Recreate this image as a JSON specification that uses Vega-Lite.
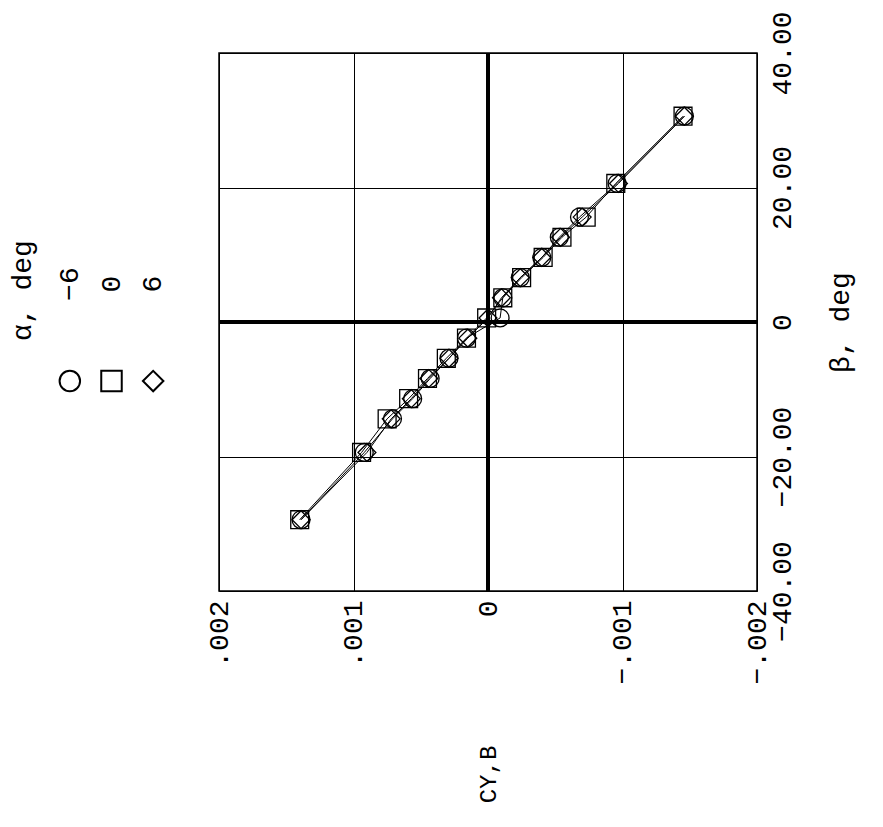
{
  "$schema": "https://vega.github.io/schema/vega-lite/v6.json",
  "autosize": {"type": "none"},
  "padding": {"left": 49, "top": 53, "right": 834, "bottom": 774},
  "background": "white",
  "bounds": "flush",
  "spacing": 45,
  "config": {
    "view": {"stroke": "black", "strokeWidth": 1.5},
    "font": "Liberation Mono",
    "axis": {
      "labelFont": "Liberation Mono",
      "titleFont": "Liberation Mono",
      "labelColor": "black",
      "titleColor": "black",
      "labelFontSize": 28,
      "titleFontSize": 28,
      "titleFontWeight": "normal",
      "gridColor": "black",
      "gridOpacity": 1,
      "gridWidth": 1,
      "domain": false,
      "ticks": false,
      "labelOverlap": false,
      "labelFlush": false,
      "labelBound": false
    },
    "text": {"font": "Liberation Mono"}
  },
  "hconcat": [
    {
      "width": 125,
      "height": 538,
      "view": {"stroke": null},
      "data": {
        "values": [
          {"alpha": -6, "label": "−6"},
          {"alpha": 0, "label": "0"},
          {"alpha": 6, "label": "6"}
        ]
      },
      "encoding": {
        "x": {
          "field": "alpha",
          "type": "ordinal",
          "scale": {"type": "point", "padding": 0.5, "domain": [-6, 0, 6]},
          "axis": null
        }
      },
      "layer": [
        {
          "mark": {"type": "point", "filled": false, "color": "black", "strokeWidth": 2, "size": 420, "opacity": 1},
          "encoding": {
            "y": {
              "datum": 0,
              "type": "quantitative",
              "scale": {"domain": [-2.08, 3.25], "nice": false, "zero": false},
              "axis": {
                "orient": "left",
                "title": "α, deg",
                "labels": false,
                "grid": false,
                "titlePadding": 13,
                "titleY": 237,
                "titleAngle": -90,
                "titleAlign": "center"
              }
            },
            "shape": {
              "field": "alpha",
              "type": "nominal",
              "scale": {"domain": [-6, 0, 6], "range": ["circle", "square", "diamond"]},
              "legend": null
            }
          }
        },
        {
          "mark": {"type": "text", "angle": -90, "fontSize": 28, "color": "black", "align": "center", "baseline": "middle", "dx": -4},
          "encoding": {
            "y": {"datum": 1, "type": "quantitative"},
            "text": {"field": "label"}
          }
        }
      ]
    },
    {
      "width": 538,
      "height": 538,
      "data": {
        "values": [
          {"alpha": -6, "beta": 30.6, "cy": -0.00146},
          {"alpha": -6, "beta": 20.6, "cy": -0.00096},
          {"alpha": -6, "beta": 15.6, "cy": -0.00068},
          {"alpha": -6, "beta": 12.6, "cy": -0.00053},
          {"alpha": -6, "beta": 9.6, "cy": -0.00040},
          {"alpha": -6, "beta": 6.6, "cy": -0.00024},
          {"alpha": -6, "beta": 3.6, "cy": -0.00011},
          {"alpha": -6, "beta": 0.6, "cy": -0.00009},
          {"alpha": -6, "beta": -2.4, "cy": 0.00016},
          {"alpha": -6, "beta": -5.4, "cy": 0.00029},
          {"alpha": -6, "beta": -8.4, "cy": 0.00043},
          {"alpha": -6, "beta": -11.4, "cy": 0.00056},
          {"alpha": -6, "beta": -14.4, "cy": 0.00071},
          {"alpha": -6, "beta": -19.4, "cy": 0.00092},
          {"alpha": -6, "beta": -29.4, "cy": 0.00139},
          {"alpha": 0, "beta": 30.6, "cy": -0.00145},
          {"alpha": 0, "beta": 20.6, "cy": -0.00095},
          {"alpha": 0, "beta": 15.6, "cy": -0.00073},
          {"alpha": 0, "beta": 12.6, "cy": -0.00055},
          {"alpha": 0, "beta": 9.6, "cy": -0.00041},
          {"alpha": 0, "beta": 6.6, "cy": -0.00025},
          {"alpha": 0, "beta": 3.6, "cy": -0.00011},
          {"alpha": 0, "beta": 0.6, "cy": 0.00001},
          {"alpha": 0, "beta": -2.4, "cy": 0.00016},
          {"alpha": 0, "beta": -5.4, "cy": 0.00031},
          {"alpha": 0, "beta": -8.4, "cy": 0.00045},
          {"alpha": 0, "beta": -11.4, "cy": 0.00059},
          {"alpha": 0, "beta": -14.4, "cy": 0.00075},
          {"alpha": 0, "beta": -19.4, "cy": 0.00094},
          {"alpha": 0, "beta": -29.4, "cy": 0.00140},
          {"alpha": 6, "beta": 30.6, "cy": -0.00146},
          {"alpha": 6, "beta": 20.6, "cy": -0.00097},
          {"alpha": 6, "beta": 15.6, "cy": -0.00070},
          {"alpha": 6, "beta": 12.6, "cy": -0.00054},
          {"alpha": 6, "beta": 9.6, "cy": -0.00040},
          {"alpha": 6, "beta": 6.6, "cy": -0.00024},
          {"alpha": 6, "beta": 3.6, "cy": -0.00010},
          {"alpha": 6, "beta": 0.6, "cy": 0.00000},
          {"alpha": 6, "beta": -2.4, "cy": 0.00015},
          {"alpha": 6, "beta": -5.4, "cy": 0.00029},
          {"alpha": 6, "beta": -8.4, "cy": 0.00044},
          {"alpha": 6, "beta": -11.4, "cy": 0.00057},
          {"alpha": 6, "beta": -14.4, "cy": 0.00072},
          {"alpha": 6, "beta": -19.4, "cy": 0.00090},
          {"alpha": 6, "beta": -29.4, "cy": 0.00139}
        ]
      },
      "layer": [
        {
          "mark": {"type": "point", "filled": false, "color": "black", "strokeWidth": 1.3, "opacity": 1, "size": 320},
          "encoding": {
            "x": {
              "field": "cy",
              "type": "quantitative",
              "scale": {"domain": [-0.002, 0.002], "reverse": true, "nice": false, "zero": false},
              "axis": {
                "orient": "bottom",
                "values": [-0.002, -0.001, 0, 0.001, 0.002],
                "labelAngle": -90,
                "labelAlign": "right",
                "labelBaseline": "middle",
                "labelPadding": 9,
                "labelExpr": "datum.value == 0 ? '0' : replace(format(datum.value, '.3f'), '0.', '.')",
                "title": "CY,B",
                "titleFontSize": 24,
                "titleAngle": -90,
                "titleAlign": "center",
                "titleBaseline": "middle",
                "titlePadding": 90
              }
            },
            "y": {
              "field": "beta",
              "type": "quantitative",
              "scale": {"domain": [-40, 40], "nice": false, "zero": false},
              "axis": {
                "orient": "right",
                "values": [-40, -20, 0, 20, 40],
                "labelAngle": -90,
                "labelAlign": "center",
                "labelBaseline": "top",
                "labelPadding": 11,
                "labelExpr": "datum.value == 0 ? '0' : format(datum.value, '.2f')",
                "title": "β, deg",
                "titleAngle": -90,
                "titleAlign": "center",
                "titleBaseline": "top",
                "titlePadding": 30
              }
            },
            "shape": {
              "field": "alpha",
              "type": "nominal",
              "scale": {"domain": [-6, 0, 6], "range": ["circle", "square", "diamond"]},
              "legend": null
            }
          }
        },
        {
          "mark": {"type": "rule", "color": "black", "strokeWidth": 3},
          "encoding": {"x": {"datum": 0}}
        },
        {
          "mark": {"type": "rule", "color": "black", "strokeWidth": 3},
          "encoding": {"y": {"datum": 0}}
        },
        {
          "mark": {"type": "line", "color": "black", "strokeWidth": 1},
          "encoding": {
            "x": {"field": "cy", "type": "quantitative"},
            "y": {"field": "beta", "type": "quantitative"},
            "detail": {"field": "alpha", "type": "nominal"},
            "order": {"field": "beta", "type": "quantitative"}
          }
        }
      ]
    }
  ]
}
